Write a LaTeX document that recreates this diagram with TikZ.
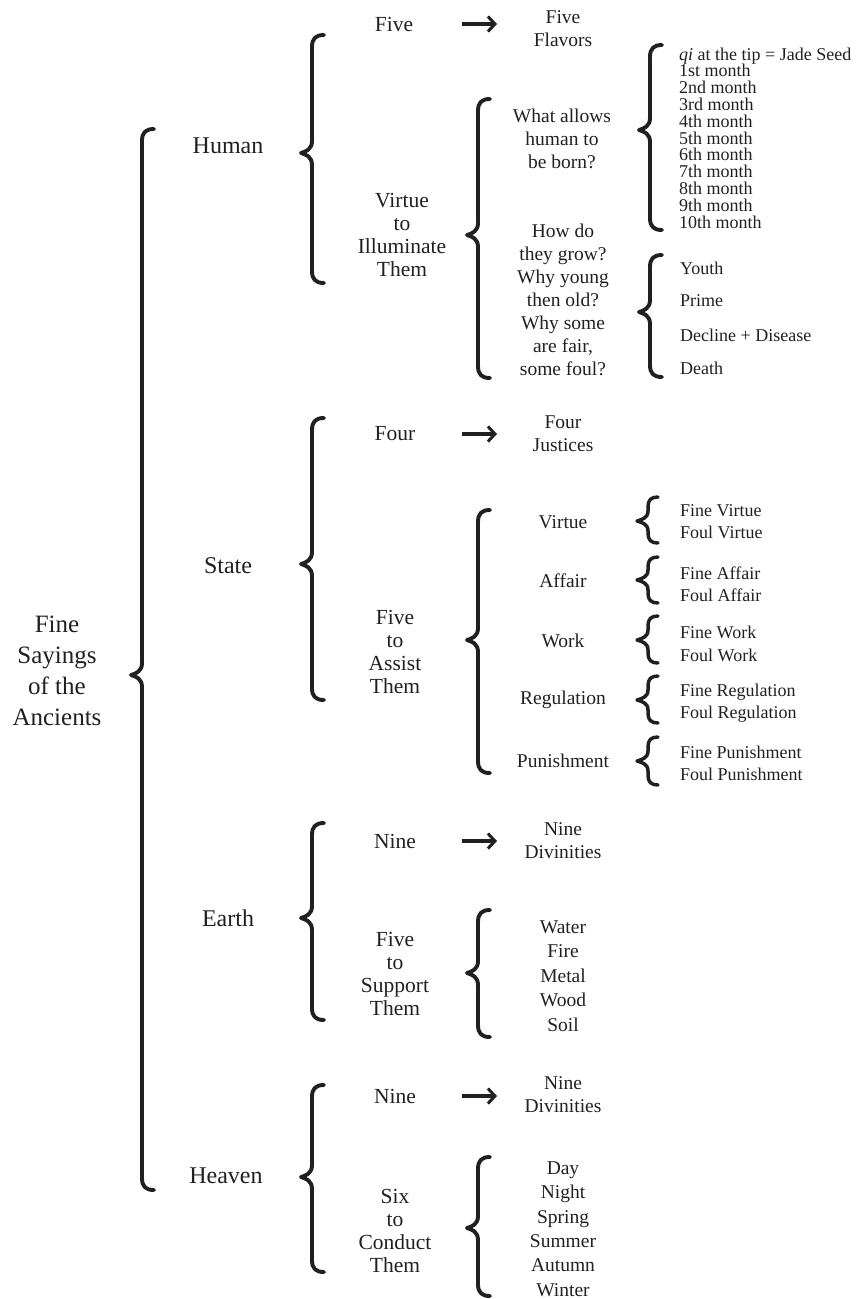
\documentclass[tikz,border=0pt]{standalone}
\usepackage{fontspec}
\setmainfont{Liberation Serif}
\usetikzlibrary{arrows.meta}
\definecolor{ink}{HTML}{231F20}
\tikzset{
  every node/.style={text=ink, inner sep=0pt},
  ttl/.style={align=center, font=\fontsize{25}{31}\selectfont},
  lone/.style={font=\fontsize{24}{29}\selectfont},
  ltwo/.style={align=center, font=\fontsize{21.5}{23}\selectfont},
  lthree/.style={align=center, font=\fontsize{19.5}{23}\selectfont},
  llist/.style={align=center, font=\fontsize{19.5}{24.4}\selectfont},
  lfour/.style={align=left, anchor=west, font=\fontsize{18}{22.3}\selectfont},
  months/.style={align=left, anchor=west, font=\fontsize{18}{16.8}\selectfont},
  brc/.style={draw=ink, line width=3.9pt, line cap=round, line join=round},
  sbrc/.style={brc, line width=3.5pt},
  arr/.style={draw=ink, line width=3.4pt, -{Straight Barb[length=7pt,width=15pt,line width=3pt]}},
}
% curly brace: x of the stem, top, tip, bottom, hook radius, style
\newcommand{\curlybrace}[6]{%
  \draw[#6] (#1+#5,#2) .. controls (#1+#5*0.3,#2) and (#1,#2+#5*0.3) .. (#1,#2+#5)
    -- (#1,#3-#5) .. controls (#1,#3-#5*0.3) and (#1-6,#3-1.5) .. (#1-11,#3)
    .. controls (#1-6,#3+1.5) and (#1,#3+#5*0.3) .. (#1,#3+#5)
    -- (#1,#4-#5) .. controls (#1,#4-#5*0.3) and (#1+#5*0.3,#4) .. (#1+#5,#4);}
\begin{document}
\begin{tikzpicture}[x=1pt, y=-1pt]
\useasboundingbox (0,0) rectangle (855,1299);

% root
\node[ttl] (root) at (57,671) {Fine\\Sayings\\of the\\Ancients};
\curlybrace{142}{129}{675}{1190}{12}{brc}

% first level
\node[lone] (human) at (228,146) {Human};
\node[lone] (state) at (228,566) {State};
\node[lone] (earth) at (228,918) {Earth};
\node[lone] (heaven) at (226,1176) {Heaven};

\curlybrace{312}{35}{153}{283}{12}{brc}
\curlybrace{312}{418}{564}{700}{12}{brc}
\curlybrace{312}{823}{918}{1020}{12}{brc}
\curlybrace{312}{1085}{1177}{1272}{12}{brc}

% arrow columns
\coordinate (ax1) at (462,0);
\coordinate (ax2) at (497,0);

% Human
\node[ltwo] (five) at (394,24) {Five};
\node[lthree] (flavors) at (563,29) {Five\\Flavors};
\draw[arr] (five -| ax1) -- (five -| ax2);
\node[ltwo] (virtue) at (402,235) {Virtue\\to\\Illuminate\\Them};
\curlybrace{478}{99}{235}{378}{12}{brc}
\node[lthree] (born) at (562,139) {What allows\\human to\\be born?};
\node[lthree] (grow) at (563,300) {How do\\they grow?\\Why young\\then old?\\Why some\\are fair,\\some foul?};
\curlybrace{650}{45}{130}{230}{12}{brc}
\node[months] (stages) at (679,138) {\textit{qi} at the tip = Jade Seed\\1st month\\2nd month\\3rd month\\4th month\\5th month\\6th month\\7th month\\8th month\\9th month\\10th month};
\curlybrace{650}{255}{312}{377}{12}{brc}
\node[lfour] (youth) at (680,268) {Youth};
\node[lfour] (prime) at (680,301) {Prime};
\node[lfour] (decline) at (680,335) {Decline + Disease};
\node[lfour] (death) at (680,368) {Death};

% State
\node[ltwo] (four) at (395,434) {Four};
\node[lthree] (justices) at (563,434) {Four\\Justices};
\draw[arr] (four -| ax1) -- (four -| ax2);
\node[ltwo] (assist) at (395,652) {Five\\to\\Assist\\Them};
\curlybrace{478}{510}{640}{773}{12}{brc}
\node[lthree] (svirtue) at (563,522) {Virtue};
\node[lthree] (affair) at (563,581) {Affair};
\node[lthree] (work) at (563,641) {Work};
\node[lthree] (regulation) at (563,700) {Regulation};
\node[lthree] (punishment) at (563,761) {Punishment};
\curlybrace{648}{497}{521}{543}{10}{sbrc}
\curlybrace{648}{557}{580}{603}{10}{sbrc}
\curlybrace{648}{616}{640}{663}{10}{sbrc}
\curlybrace{648}{676}{700}{723}{10}{sbrc}
\curlybrace{648}{737}{761}{785}{10}{sbrc}
\node[lfour] (fv) at (680,522) {Fine Virtue\\Foul Virtue};
\node[lfour] (fa) at (680,584) {Fine Affair\\Foul Affair};
\node[lfour] (fw) at (680,644) {Fine Work\\Foul Work};
\node[lfour] (fr) at (680,703) {Fine Regulation\\Foul Regulation};
\node[lfour] (fp) at (680,763) {Fine Punishment\\Foul Punishment};

% Earth
\node[ltwo] (nine1) at (395,841) {Nine};
\node[lthree] (div1) at (563,841) {Nine\\Divinities};
\draw[arr] (nine1 -| ax1) -- (nine1 -| ax2);
\node[ltwo] (support) at (395,974) {Five\\to\\Support\\Them};
\curlybrace{478}{910}{973}{1037}{12}{brc}
\node[llist] (phases) at (563,976) {Water\\Fire\\Metal\\Wood\\Soil};

% Heaven
\node[ltwo] (nine2) at (395,1096) {Nine};
\node[lthree] (div2) at (563,1095) {Nine\\Divinities};
\draw[arr] (nine2 -| ax1) -- (nine2 -| ax2);
\node[ltwo] (conduct) at (395,1231) {Six\\to\\Conduct\\Them};
\curlybrace{478}{1157}{1228}{1296}{12}{brc}
\node[llist] (times) at (563,1229) {Day\\Night\\Spring\\Summer\\Autumn\\Winter};
\end{tikzpicture}
\end{document}
